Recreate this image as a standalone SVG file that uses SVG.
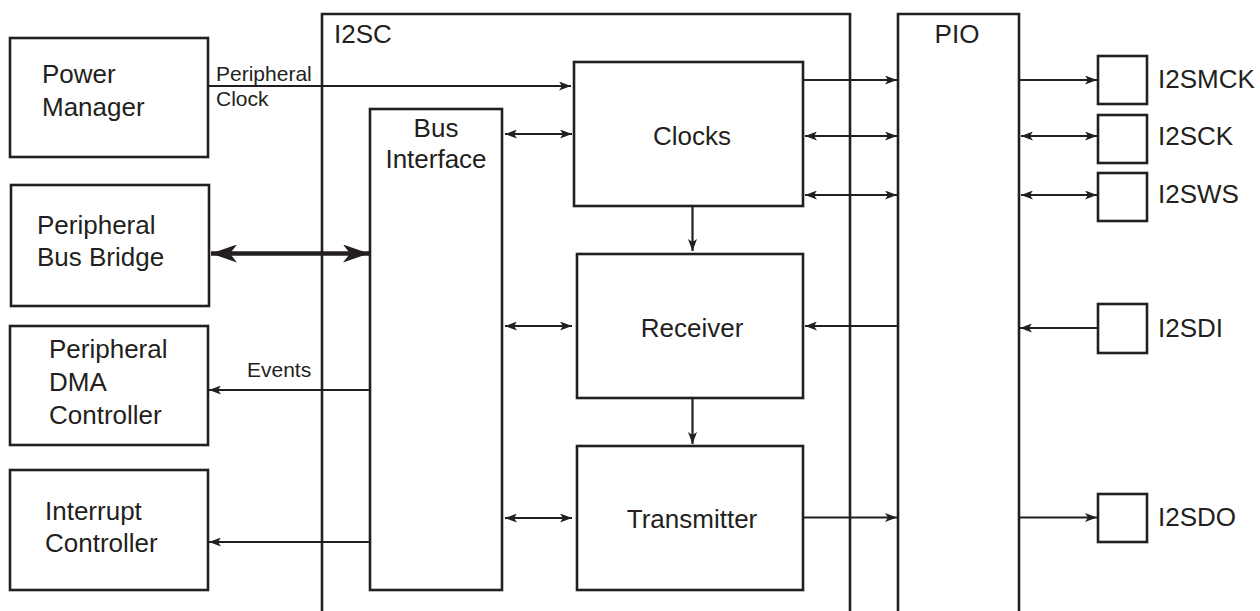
<svg xmlns="http://www.w3.org/2000/svg" width="1260" height="611" viewBox="0 0 1260 611">
<style>
.box{fill:#fff;stroke:#231f20;stroke-width:2.6}
.frame{fill:none;stroke:#231f20;stroke-width:2.6}
.c{fill:none;stroke:#231f20;stroke-width:2.2}
.thick{fill:none;stroke:#231f20;stroke-width:4.5}
text{font-family:"Liberation Sans",Arial,sans-serif;fill:#231f20}
.t{font-size:26px}
.m{text-anchor:middle}
.s{font-size:21px}
</style>
<defs>
<marker id="ah" markerUnits="userSpaceOnUse" viewBox="0 0 12 9" markerWidth="12" markerHeight="9" refX="12" refY="4.5" orient="auto-start-reverse">
<path d="M0,0 L12,4.5 L0,9 L3,4.5 Z" fill="#231f20"/>
</marker>
<marker id="big" markerUnits="userSpaceOnUse" viewBox="0 0 26 18" markerWidth="26" markerHeight="18" refX="26" refY="9" orient="auto-start-reverse">
<path d="M0,0 L26,9 L0,18 L7,9 Z" fill="#231f20"/>
</marker>
</defs>

<g id="i2sc">
<path class="frame" d="M322,611 V14 H850 V611"/>
<text class="t" x="334" y="43">I2SC</text>
</g>
<g id="pio">
<path class="frame" d="M898,611 V14 H1019 V611"/>
<text class="t m" x="957" y="43">PIO</text>
</g>

<g id="power-manager">
<rect class="box" x="10" y="38" width="198" height="119"/>
<text class="t" x="42" y="83">Power</text>
<text class="t" x="42" y="116">Manager</text>
</g>
<g id="peripheral-bus-bridge">
<rect class="box" x="11" y="185" width="198" height="121"/>
<text class="t" x="37" y="234">Peripheral</text>
<text class="t" x="37" y="266">Bus Bridge</text>
</g>
<g id="peripheral-dma-controller">
<rect class="box" x="10" y="326" width="198" height="119"/>
<text class="t" x="49" y="358">Peripheral</text>
<text class="t" x="49" y="391">DMA</text>
<text class="t" x="49" y="424">Controller</text>
</g>
<g id="interrupt-controller">
<rect class="box" x="10" y="470" width="198" height="120"/>
<text class="t" x="45" y="520">Interrupt</text>
<text class="t" x="45" y="552">Controller</text>
</g>

<g id="bus-interface">
<rect class="box" x="370" y="109" width="132" height="481"/>
<text class="t m" x="436" y="137">Bus</text>
<text class="t m" x="436" y="168">Interface</text>
</g>
<g id="clocks">
<rect class="box" x="574" y="62" width="229" height="144"/>
<text class="t m" x="692" y="145">Clocks</text>
</g>
<g id="receiver">
<rect class="box" x="577" y="254" width="226" height="144"/>
<text class="t m" x="692" y="337">Receiver</text>
</g>
<g id="transmitter">
<rect class="box" x="577" y="446" width="226" height="144"/>
<text class="t m" x="692" y="528">Transmitter</text>
</g>

<g id="pin-i2smck">
<rect class="box" x="1098" y="56" width="49" height="48"/>
<text class="t" x="1158" y="88">I2SMCK</text>
</g>
<g id="pin-i2sck">
<rect class="box" x="1098" y="115" width="49" height="48"/>
<text class="t" x="1158" y="145">I2SCK</text>
</g>
<g id="pin-i2sws">
<rect class="box" x="1098" y="173" width="49" height="48"/>
<text class="t" x="1158" y="203">I2SWS</text>
</g>
<g id="pin-i2sdi">
<rect class="box" x="1098" y="304" width="49" height="49"/>
<text class="t" x="1158" y="337">I2SDI</text>
</g>
<g id="pin-i2sdo">
<rect class="box" x="1098" y="494" width="49" height="48"/>
<text class="t" x="1158" y="526">I2SDO</text>
</g>

<g id="connectors">
<line class="c" x1="208" y1="86" x2="571" y2="86" marker-end="url(#ah)"/>
<text class="s" x="216" y="81">Peripheral</text>
<text class="s" x="216" y="106">Clock</text>
<line class="c" x1="505" y1="134" x2="572" y2="134" marker-start="url(#ah)" marker-end="url(#ah)"/>
<line class="c" x1="803" y1="80" x2="897" y2="80" marker-end="url(#ah)"/>
<line class="c" x1="805" y1="136" x2="897" y2="136" marker-start="url(#ah)" marker-end="url(#ah)"/>
<line class="c" x1="805" y1="195" x2="897" y2="195" marker-start="url(#ah)" marker-end="url(#ah)"/>
<line class="c" x1="692.5" y1="206" x2="692.5" y2="251" marker-end="url(#ah)"/>
<line class="thick" x1="211" y1="253.5" x2="369" y2="253.5" marker-start="url(#big)" marker-end="url(#big)"/>
<line class="c" x1="370" y1="390" x2="209" y2="390" marker-end="url(#ah)"/>
<text class="s" x="247" y="377">Events</text>
<line class="c" x1="505" y1="326" x2="572" y2="326" marker-start="url(#ah)" marker-end="url(#ah)"/>
<line class="c" x1="898" y1="326" x2="805" y2="326" marker-end="url(#ah)"/>
<line class="c" x1="692.5" y1="398" x2="692.5" y2="444" marker-end="url(#ah)"/>
<line class="c" x1="505" y1="518" x2="572" y2="518" marker-start="url(#ah)" marker-end="url(#ah)"/>
<line class="c" x1="803" y1="517.5" x2="897" y2="517.5" marker-end="url(#ah)"/>
<line class="c" x1="370" y1="542" x2="209" y2="542" marker-end="url(#ah)"/>
<line class="c" x1="1019" y1="80" x2="1097" y2="80" marker-end="url(#ah)"/>
<line class="c" x1="1021" y1="136" x2="1097" y2="136" marker-start="url(#ah)" marker-end="url(#ah)"/>
<line class="c" x1="1021" y1="195" x2="1097" y2="195" marker-start="url(#ah)" marker-end="url(#ah)"/>
<line class="c" x1="1098" y1="328" x2="1020" y2="328" marker-end="url(#ah)"/>
<line class="c" x1="1019" y1="517.5" x2="1097" y2="517.5" marker-end="url(#ah)"/>
</g>
</svg>
